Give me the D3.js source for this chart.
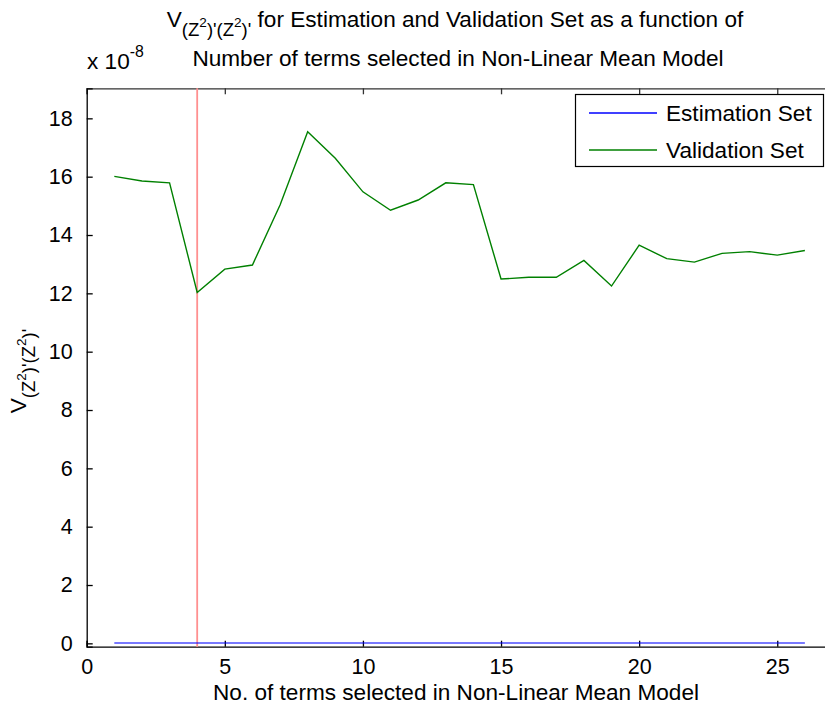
<!DOCTYPE html>
<html>
<head>
<meta charset="utf-8">
<script src="https://cdn.jsdelivr.net/npm/d3@7"></script>
<style>
  html, body { margin: 0; padding: 0; background: #fff; }
  svg text { font-family: "Liberation Sans", Arial, Helvetica, sans-serif; fill: #000; }
</style>
</head>
<body>
<svg id="chart" width="825" height="707"></svg>
<script>
// Number of terms in the non-linear mean model
const termCounts = [1, 2, 3, 4, 5, 6, 7, 8, 9, 10, 11, 12, 13, 14, 15, 16, 17, 18, 19, 20, 21, 22, 23, 24, 25, 26];
// Loss V for each model size, in units of 1e-8
const estimationLoss = [0.01, 0.01, 0.01, 0.01, 0.01, 0.01, 0.01, 0.01, 0.01, 0.01, 0.01, 0.01, 0.01,
                        0.01, 0.01, 0.01, 0.01, 0.01, 0.01, 0.01, 0.01, 0.01, 0.01, 0.01, 0.01, 0.01];
const validationLoss = [16.01, 15.85, 15.79, 12.03, 12.83, 12.97, 15.03, 17.54, 16.63, 15.48, 14.85, 15.20, 15.79,
                        15.73, 12.49, 12.55, 12.55, 13.13, 12.25, 13.65, 13.19, 13.07, 13.37, 13.43, 13.31, 13.47];
const selectedTerms = 4;
const xTicks = [0, 5, 10, 15, 20, 25];
const yTicks = [0, 2, 4, 6, 8, 10, 12, 14, 16, 18];
const xDomain = [0, 27];
const yDomain = [-0.115, 19.03];
const seriesNames = ["Estimation Set", "Validation Set"];
const seriesColors = ["#0000ff", "#008000"];

const svg = d3.select("#chart");
const FS = 22.6;      // titles, labels, legend
const TICK_FS = 21.5; // tick labels
const plotL = 86.7, plotR = 832.5, plotT = 88.3, plotB = 646.7;

const x = d3.scaleLinear().domain(xDomain).range([plotL, plotR]);
const y = d3.scaleLinear().domain(yDomain).range([plotB, plotT]);

// inward ticks on all four sides
const tickLen = 6;
const bottomAxis = d3.axisBottom(x).tickValues(xTicks).tickSize(-tickLen).tickPadding(tickLen + 6).tickFormat(d3.format("d"));
const topAxis = d3.axisTop(x).tickValues(xTicks).tickSize(-tickLen).tickFormat("");
const leftAxis = d3.axisLeft(y).tickValues(yTicks).tickSize(-tickLen).tickPadding(tickLen + 8).tickFormat(d3.format("d"));
const rightAxis = d3.axisRight(y).tickValues(yTicks).tickSize(-tickLen).tickFormat("");

function style(g, color) {
  g.select(".domain").attr("stroke", color).attr("stroke-width", 1.3);
  g.selectAll(".tick line").attr("stroke", color).attr("stroke-width", 1.3);
  g.selectAll(".tick text").attr("font-size", TICK_FS).attr("fill", "#000")
    .style("font-family", '"Liberation Sans", Arial, sans-serif');
}

svg.append("g").attr("transform", `translate(0,${plotB})`).call(bottomAxis).call(g => style(g, "#000"));
svg.append("g").attr("transform", `translate(0,${plotT})`).call(topAxis).call(g => style(g, "#333"));
svg.append("g").attr("transform", `translate(${plotL},0)`).call(leftAxis).call(g => style(g, "#000"));
svg.append("g").attr("transform", `translate(${plotR},0)`).call(rightAxis).call(g => style(g, "#888"));

// selected model size marker
svg.append("line")
  .attr("x1", x(selectedTerms)).attr("x2", x(selectedTerms))
  .attr("y1", plotT).attr("y2", plotB)
  .attr("stroke", "#ff9090").attr("stroke-width", 1.8);

// loss curves
const line = d3.line().x((d, i) => x(termCounts[i])).y(d => y(d));
[estimationLoss, validationLoss].forEach((vals, k) => {
  svg.append("path").datum(vals)
    .attr("d", line)
    .attr("fill", "none")
    .attr("stroke", seriesColors[k])
    .attr("stroke-opacity", k === 0 ? 0.7 : 1)
    .attr("stroke-width", k === 0 ? 1.6 : 1.4);
});

// legend
const lg = svg.append("g");
lg.append("rect").attr("x", 575.5).attr("y", 94.5).attr("width", 248).attr("height", 72)
  .attr("fill", "#fff").attr("stroke", "#000").attr("stroke-width", 1.2);
seriesNames.forEach((name, k) => {
  const yy = 113 + k * 37;
  lg.append("line").attr("x1", 589).attr("x2", 657).attr("y1", yy).attr("y2", yy)
    .attr("stroke", seriesColors[k]).attr("stroke-width", 1.3);
  lg.append("text").attr("x", 666).attr("y", yy + 8).attr("font-size", FS).text(name);
});

// exponent label
const ex = svg.append("text").attr("x", 87).attr("y", 69).attr("font-size", FS);
ex.append("tspan").text("x 10");
ex.append("tspan").attr("dy", -12).attr("font-size", FS * 0.7).text("-8");

// V_{(Z^2)'(Z^2)'} with sub/superscripts
function vSymbol(t) {
  const sub = FS * 0.82, sup = FS * 0.6;
  t.append("tspan").text("V");
  t.append("tspan").attr("dy", 9).attr("font-size", sub).text("(Z");
  t.append("tspan").attr("dy", -9).attr("font-size", sup).text("2");
  t.append("tspan").attr("dy", 9).attr("font-size", sub).text(")'(Z");
  t.append("tspan").attr("dy", -9).attr("font-size", sup).text("2");
  t.append("tspan").attr("dy", 9).attr("font-size", sub).text(")'");
  return t;
}

// title
const t1 = svg.append("text").attr("x", 455).attr("y", 27).attr("text-anchor", "middle").attr("font-size", FS);
vSymbol(t1);
t1.append("tspan").attr("dy", -9).text(" for Estimation and Validation Set as a function of");
svg.append("text").attr("x", 458).attr("y", 66).attr("text-anchor", "middle").attr("font-size", FS)
  .text("Number of terms selected in Non-Linear Mean Model");

// x label
svg.append("text").attr("x", 456).attr("y", 699.5).attr("text-anchor", "middle").attr("font-size", FS)
  .text("No. of terms selected in Non-Linear Mean Model");

// y label
const yl = svg.append("text").attr("transform", `translate(26,371) rotate(-90)`)
  .attr("text-anchor", "middle").attr("font-size", FS);
vSymbol(yl);
</script>
</body>
</html>
